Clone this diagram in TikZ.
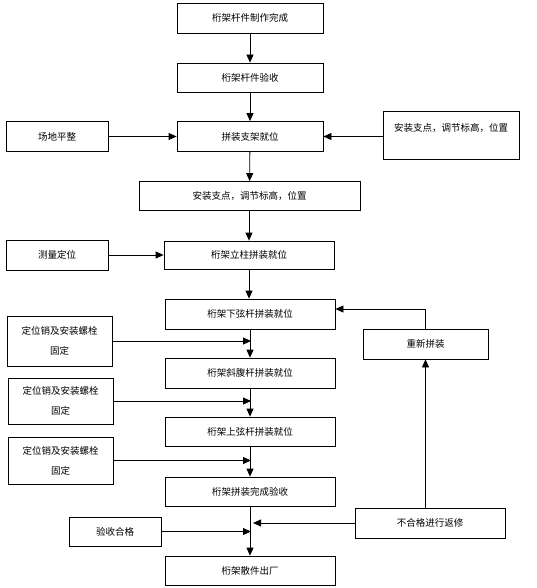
\documentclass[tikz,border=0pt]{standalone}
\usepackage{fontspec}
\newfontfamily\cjk{Noto Sans CJK SC}
\usetikzlibrary{arrows.meta}

\begin{document}
\begin{tikzpicture}[x=1pt,y=-1pt,line width=0.8pt,>={Triangle[length=8pt,width=7pt]}]
  \tikzstyle{box}=[draw,rectangle,inner sep=0pt,align=center,font=\cjk\fontsize{9.5}{12}\selectfont]
  \useasboundingbox (0,0) rectangle (537,588);

  % main column
  \node[box,minimum width=146pt,minimum height=30pt] (make) at (250,18) {桁架杆件制作完成};
  \node[box,minimum width=146pt,minimum height=29pt] (check) at (250,77.5) {桁架杆件验收};
  \node[box,minimum width=146pt,minimum height=30pt] (frame) at (250,136.5) {拼装支架就位};
  \node[box,minimum width=221pt,minimum height=29pt] (level) at (249.5,196) {安装支点，调节标高，位置};
  \node[box,minimum width=170pt,minimum height=28pt] (post) at (249,255) {桁架立柱拼装就位};
  \node[box,minimum width=170pt,minimum height=30pt] (lower) at (250,314) {桁架下弦杆拼装就位};
  \node[box,minimum width=170pt,minimum height=30pt] (web) at (250,373) {桁架斜腹杆拼装就位};
  \node[box,minimum width=170pt,minimum height=29pt] (upper) at (250,431.5) {桁架上弦杆拼装就位};
  \node[box,minimum width=170pt,minimum height=29pt] (done) at (250,491.5) {桁架拼装完成验收};
  \node[box,minimum width=170pt,minimum height=29pt] (ship) at (250,570.5) {桁架散件出厂};

  % side boxes
  \node[box,minimum width=102pt,minimum height=30pt] (site) at (57,136.5) {场地平整};
  \node[box,minimum width=136pt,minimum height=48pt] (adjust) at (451,135) {安装支点，调节标高，位置\\[4pt]\mbox{}};
  \node[box,minimum width=102pt,minimum height=30pt] (survey) at (57,255) {测量定位};
  \node[box,minimum width=105pt,minimum height=50pt] (fixa) at (59.5,341) {定位销及安装螺栓\\[8pt]固定};
  \node[box,minimum width=105pt,minimum height=46pt] (fixb) at (60.5,401) {定位销及安装螺栓\\[8pt]固定};
  \node[box,minimum width=105pt,minimum height=47pt] (fixc) at (60.5,460.5) {定位销及安装螺栓\\[8pt]固定};
  \node[box,minimum width=92pt,minimum height=29pt] (pass) at (115,531.5) {验收合格};
  \node[box,minimum width=150pt,minimum height=30pt] (repair) at (430,523) {不合格进行返修};
  \node[box,minimum width=125pt,minimum height=30pt] (redo) at (425.5,344) {重新拼装};

  \coordinate (ja) at (251,341);
  \coordinate (jb) at (251,401);
  \coordinate (jc) at (251,460.5);
  \coordinate (jd) at (251,531.5);
  \coordinate (je) at (253,523);

  \draw[->] (make) -- (check);
  \draw[->] (check) -- (frame);
  \draw[->] (site) -- (frame);
  \draw[->] (adjust.west |- frame.east) -- (frame.east);
  \draw[->] (frame) -- (level);
  \draw[->] (level.south -| post) -- (post);
  \draw[->] (survey) -- (post.west |- survey);
  \draw[->] (post) -- (lower.north -| post);
  \draw[->] (lower) -- (web);
  \draw[->] (web) -- (upper);
  \draw[->] (upper) -- (done);
  \draw[->] (done) -- (ship);

  \draw[->] (fixa) -- (ja);
  \draw[->] (fixb) -- (jb);
  \draw[->] (fixc) -- (jc);
  \draw[->] (pass) -- (jd);
  \draw[->] (repair) -- (je);

  \draw[->] (redo |- repair.north) -- (redo.south);
  \draw[->] (redo.north) |- ([yshift=5pt]lower.east);

\end{tikzpicture}
\end{document}
